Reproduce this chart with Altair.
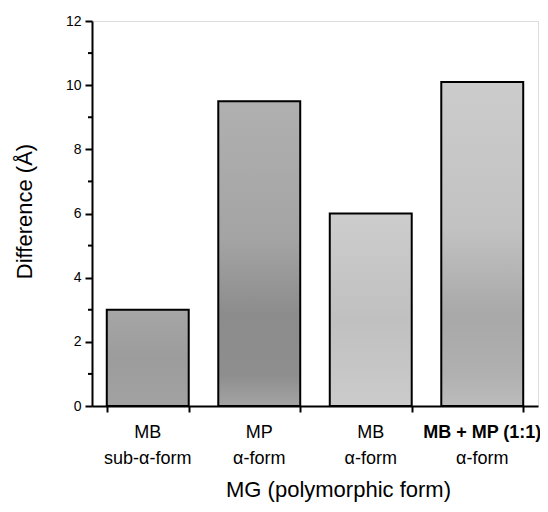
import altair as alt
import pandas as pd

# ---- data ----
categories = ["MB sub-α-form", "MP α-form", "MB α-form", "MB + MP (1:1) α-form"]
line1 = ["MB", "MP", "MB", "MB + MP (1:1)"]
line2 = ["sub-α-form", "α-form", "α-form", "α-form"]
values = [3.0, 9.5, 6.0, 10.1]
bold_first = [False, False, False, True]
y_major = [0, 2, 4, 6, 8, 10, 12]
y_minor = [1, 3, 5, 7, 9, 11]

df = pd.DataFrame({"cat": categories, "l1": line1, "l2": line2, "v": values, "bold": bold_first})
minor_df = pd.DataFrame({"m": y_minor})

# ---- styles ----
W, H = 446, 385
FONT = "Liberation Sans"

bar_stops = [
    [("#a6a6a6", 0), ("#9c9c9c", 0.5), ("#a2a2a2", 1)],
    [("#b0b0b0", 0), ("#a4a4a4", 0.45), ("#8c8c8c", 0.7), ("#8e8e8e", 0.9), ("#a4a4a4", 1)],
    [("#cdcdcd", 0), ("#c0c0c0", 0.55), ("#cbcbcb", 1)],
    [("#cccccc", 0), ("#c2c2c2", 0.45), ("#a8a8a8", 0.72), ("#b0b0b0", 0.9), ("#bcbcbc", 1)],
]

x_scale = alt.Scale(paddingInner=0.265, paddingOuter=0.1325)
x_axis = alt.Axis(
    title="MG (polymorphic form)", labels=False, tickBand="extent",
    tickSize=6, tickWidth=2, tickColor="black", domainColor="black", domainWidth=2,
    titleFont=FONT, titleFontSize=22, titleFontWeight="normal", titleColor="black",
    titleX=246, titleY=90, titleBaseline="alphabetic",
)
y_axis = alt.Axis(
    values=y_major, title="Difference (Å)", grid=False,
    tickSize=7, tickWidth=2, tickColor="black", domainColor="black", domainWidth=2,
    labelFont=FONT, labelFontSize=14, labelColor="black", labelPadding=4,
    titleFont=FONT, titleFontSize=22, titleFontWeight="normal", titleColor="black",
    titleX=-68, titleY=190, titleBaseline="middle",
)

x_enc = alt.X("cat:N", sort=categories, scale=x_scale, axis=x_axis)
y_enc = alt.Y("v:Q", scale=alt.Scale(domain=[0, 12], nice=False), axis=y_axis)

layers = []
for cat, stops in zip(categories, bar_stops):
    grad = alt.Gradient(
        gradient="linear", x1=0, x2=0, y1=0, y2=1,
        stops=[alt.GradientStop(color=c, offset=o) for c, o in stops],
    )
    layers.append(
        alt.Chart(df).transform_filter(alt.datum.cat == cat)
        .mark_bar(fill=grad, stroke="black", strokeWidth=2)
        .encode(x=x_enc, y=y_enc)
    )

minor = alt.Chart(minor_df).mark_rule(color="black", strokeWidth=2).encode(
    y=alt.Y("m:Q", title="Difference (Å)"), x=alt.value(-4), x2=alt.value(0)
)

txt_x = alt.X("cat:N", sort=categories, scale=x_scale, axis=x_axis)
lab1 = alt.Chart(df).transform_filter("!datum.bold").mark_text(
    font=FONT, fontSize=18, baseline="alphabetic", color="black"
).encode(x=txt_x, y=alt.value(417), text="l1:N")
lab1b = alt.Chart(df).transform_filter("datum.bold").mark_text(
    font=FONT, fontSize=18, fontWeight="bold", baseline="alphabetic", color="black"
).encode(x=txt_x, y=alt.value(417), text="l1:N")
lab2 = alt.Chart(df).mark_text(
    font=FONT, fontSize=18, baseline="alphabetic", color="black"
).encode(x=txt_x, y=alt.value(443), text="l2:N")

chart = alt.layer(*layers, minor, lab1, lab1b, lab2).properties(
    width=W, height=H,
    autosize=alt.AutoSizeParams(type="none"),
    padding={"left": 84, "top": 13, "right": 2, "bottom": 98},
).configure_view(stroke="black", strokeWidth=2).configure(background="white")

chart.save("out.html", embed_options={"renderer": "svg", "actions": False})
